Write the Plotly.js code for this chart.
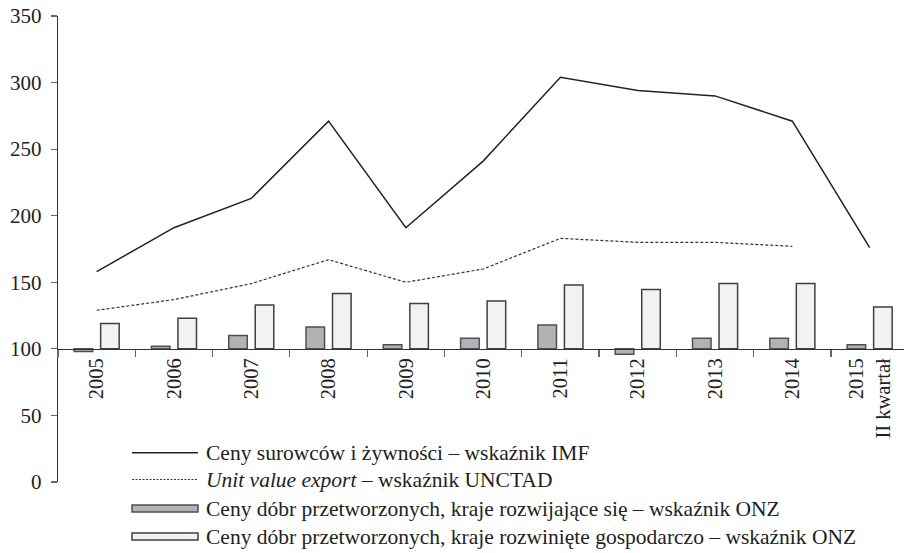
<!DOCTYPE html>
<html>
<head>
<meta charset="utf-8">
<script src="https://cdn.plot.ly/plotly-3.0.1.min.js"></script>
<style>html,body{margin:0;padding:0;background:#fff;}#chart{width:904px;height:553px;}</style>
</head>
<body>
<div id="chart"></div>
<script>
const categories = ['2005','2006','2007','2008','2009','2010','2011','2012','2013','2014','2015<br>II kwartał'];
const imfValues = [158, 191, 213, 271, 191, 241, 304, 294, 290, 271, 176];
const unctadValues = [129, 137, 149, 167, 150, 160, 183, 180, 180, 177, null];
const developingValues = [98, 102, 110, 116.5, 103, 108, 118, 96, 108, 108, 103];
const developedValues = [119, 123, 133, 141.5, 134, 136, 148, 144.5, 149, 149, 131.5];
const seriesNames = [
  'Ceny surowców i żywności – wskaźnik IMF',
  '<i>Unit value export</i> – wskaźnik UNCTAD',
  'Ceny dóbr przetworzonych, kraje rozwijające się – wskaźnik ONZ',
  'Ceny dóbr przetworzonych, kraje rozwinięte gospodarczo – wskaźnik ONZ'
];
const BASE = 100;

const W = 904, H = 553;
const M = {l: 58, r: 0, t: 16, b: 71};
const plotW = W - M.l - M.r, plotH = H - M.t - M.b;
const catW = 77.3;
const px = x => (x - M.l) / plotW;
const py = y => (H - M.b - y) / plotH;

const FONT = 'Liberation Serif, Times New Roman, serif';
const darkFill = '#b2b2b6', darkLine = '#505050';
const lightFill = '#f1f2f4', lightLine = '#404040';

const traces = [
  {type:'bar', x:categories, y:developingValues.map(v => v - BASE), base:BASE, name:seriesNames[2],
   marker:{color:darkFill, line:{color:darkLine, width:1.5}}, showlegend:false},
  {type:'bar', x:categories, y:developedValues.map(v => v - BASE), base:BASE, name:seriesNames[3],
   marker:{color:lightFill, line:{color:lightLine, width:1.5}}, showlegend:false},
  {type:'scatter', mode:'lines', x:categories, y:imfValues, name:seriesNames[0],
   line:{color:'#222', width:1.5}, showlegend:false},
  {type:'scatter', mode:'lines', x:categories, y:unctadValues, name:seriesNames[1],
   line:{color:'#333', width:1.2, dash:'3px,2px'}, showlegend:false}
];

// custom legend (pixel layout converted to paper coords)
const legY = [452.7, 479.5, 508.5, 536.5];
const symX0 = 132, symX1 = 198, textX = 204;
const shapes = [
  {type:'line', xref:'paper', yref:'paper', x0:px(symX0), x1:px(symX1), y0:py(legY[0]), y1:py(legY[0]), line:{color:'#222', width:1.5}},
  {type:'line', xref:'paper', yref:'paper', x0:px(symX0), x1:px(symX1), y0:py(legY[1]), y1:py(legY[1]), line:{color:'#333', width:1, dash:'2px,1.5px'}},
  {type:'rect', xref:'paper', yref:'paper', x0:px(symX0), x1:px(symX1), y0:py(legY[2]-3.6), y1:py(legY[2]+3.6), fillcolor:darkFill, line:{color:darkLine, width:1.5}},
  {type:'rect', xref:'paper', yref:'paper', x0:px(symX0), x1:px(symX1), y0:py(legY[3]-3.6), y1:py(legY[3]+3.6), fillcolor:lightFill, line:{color:lightLine, width:1.5}}
];
const annotations = seriesNames.map((t, i) => ({
  text:t, xref:'paper', yref:'paper', x:px(textX), y:py(legY[i]), xanchor:'left', yanchor:'middle',
  showarrow:false, font:{family:FONT, size:21.5, color:'#222'}
}));

const layout = {
  width:W, height:H,
  margin:{l:M.l, r:M.r, t:M.t, b:M.b, pad:0},
  paper_bgcolor:'#fff', plot_bgcolor:'#fff',
  barmode:'group', bargap:0.314, bargroupgap:0.3,
  showlegend:false,
  font:{family:FONT, color:'#222'},
  xaxis:{
    type:'category', range:[-0.5, -0.5 + plotW / catW],
    anchor:'free', position:BASE/350,
    showline:true, linecolor:'#333', linewidth:1.2,
    ticks:'outside', ticklen:7, tickcolor:'#666', tickwidth:1.2, tickson:'boundaries',
    tickangle:-90, tickfont:{family:FONT, size:20.5, color:'#222'},
    showgrid:false, zeroline:false, fixedrange:true
  },
  yaxis:{
    range:[0, 350], tickvals:[0,50,100,150,200,250,300,350],
    showline:true, linecolor:'#333', linewidth:1.2,
    ticks:'outside', ticklen:6, tickcolor:'#666', tickwidth:1.2,
    ticklabelstandoff:5,
    tickfont:{family:FONT, size:21, color:'#222'},
    showgrid:false, zeroline:false, fixedrange:true
  },
  shapes:shapes,
  annotations:annotations
};

Plotly.newPlot('chart', traces, layout, {displayModeBar:false, staticPlot:true});
</script>
</body>
</html>
